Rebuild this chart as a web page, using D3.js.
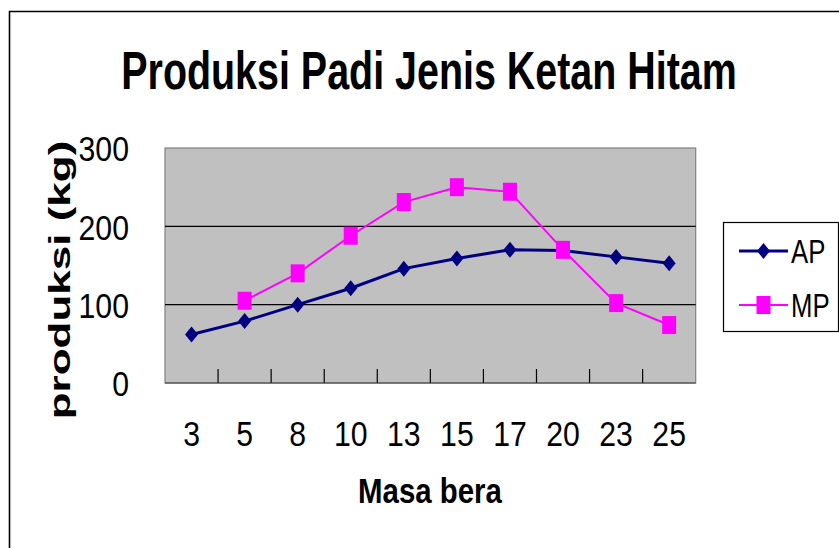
<!DOCTYPE html>
<html>
<head>
<meta charset="utf-8">
<script src="https://cdn.jsdelivr.net/npm/d3@7"></script>
<style>
  html, body { margin: 0; padding: 0; background: #ffffff; }
  svg { display: block; }
  text { font-family: "Liberation Sans", Arial, sans-serif; fill: #000; }
</style>
</head>
<body>
<svg id="chart" width="839" height="548"></svg>
<script>
const title = "Produksi Padi Jenis Ketan Hitam";
const xTitle = "Masa bera";
const yTitle = "produksi (kg)";
const categories = ["3", "5", "8", "10", "13", "15", "17", "20", "23", "25"];
const seriesNames = ["AP", "MP"];
const apValues = [62, 79, 100, 121, 146, 159, 170, 169, 161, 153];
const mpValues = [null, 105, 140, 188, 231, 250, 244, 170, 102, 74];
const yTicks = [0, 100, 200, 300];

const svg = d3.select("#chart");
const W = 839, H = 548;
const plot = { left: 165, right: 695.7, top: 148, bottom: 383 };

svg.append("rect").attr("width", W).attr("height", H).attr("fill", "#fff");

// outer chart border (top and left visible)
svg.append("path")
  .attr("d", `M9.5,${H} L9.5,11.5 L${W},11.5`)
  .attr("fill", "none").attr("stroke", "#000").attr("stroke-width", 1.6);

const x = d3.scaleBand().domain(categories).range([plot.left, plot.right]).padding(0);
const y = d3.scaleLinear().domain([0, 300]).range([plot.bottom, plot.top]);
const cx = c => x(c) + x.bandwidth() / 2;

// plot area
svg.append("rect")
  .attr("x", plot.left).attr("y", plot.top)
  .attr("width", plot.right - plot.left).attr("height", plot.bottom - plot.top)
  .attr("fill", "#c0c0c0").attr("stroke", "#808080").attr("stroke-width", 1.2);

// gridlines
svg.append("g").selectAll("line")
  .data(yTicks.filter(t => t > 0 && t < 300))
  .join("line")
  .attr("x1", plot.left).attr("x2", plot.right)
  .attr("y1", d => y(d)).attr("y2", d => y(d))
  .attr("stroke", "#000").attr("stroke-width", 1.3);

// category tick marks (inside, at boundaries)
svg.append("g").selectAll("line")
  .data(categories.slice(1))
  .join("line")
  .attr("x1", d => x(d)).attr("x2", d => x(d))
  .attr("y1", plot.bottom - 14).attr("y2", plot.bottom)
  .attr("stroke", "#000").attr("stroke-width", 1.2);

// bottom axis line
svg.append("line")
  .attr("x1", plot.left).attr("x2", plot.right)
  .attr("y1", plot.bottom).attr("y2", plot.bottom)
  .attr("stroke", "#404040").attr("stroke-width", 1.2);

// y axis labels
const yAxis = svg.append("g")
  .attr("transform", `translate(${plot.left},0)`)
  .call(d3.axisLeft(y).tickValues(yTicks).tickSize(0).tickFormat(d3.format("d")));
yAxis.select(".domain").remove();
yAxis.selectAll("text")
  .attr("x", 0).attr("dy", "0.36em")
  .attr("transform", "translate(-36,0) scale(0.84,1)")
  .attr("text-anchor", "end")
  .style("font-size", "36px").style("font-family", '"Liberation Sans", Arial, sans-serif');

// x axis labels
const xAxis = svg.append("g")
  .attr("transform", `translate(0,${plot.bottom})`)
  .call(d3.axisBottom(x).tickSize(0));
xAxis.select(".domain").remove();
xAxis.selectAll("text")
  .attr("y", 0).attr("dy", 0)
  .attr("transform", "translate(0,63) scale(0.84,1)")
  .attr("text-anchor", "middle")
  .style("font-size", "36px").style("font-family", '"Liberation Sans", Arial, sans-serif');

// lines
const lineGen = d3.line()
  .defined(d => d.v != null)
  .x(d => cx(d.c)).y(d => y(d.v));

const apData = categories.map((c, i) => ({ c, v: apValues[i] }));
const mpData = categories.map((c, i) => ({ c, v: mpValues[i] }));

svg.append("path").datum(apData).attr("d", lineGen)
  .attr("fill", "none").attr("stroke", "#000080").attr("stroke-width", 3);
svg.append("path").datum(mpData).attr("d", lineGen)
  .attr("fill", "none").attr("stroke", "#ff00ff").attr("stroke-width", 2);

const diamond = (px, py) => `M${px},${py - 8} L${px + 6.5},${py} L${px},${py + 8} L${px - 6.5},${py} Z`;
const square = (px, py) => `M${px - 7},${py - 9} h14 v18 h-14 Z`;

svg.append("g").selectAll("path")
  .data(apData.filter(d => d.v != null))
  .join("path")
  .attr("d", d => diamond(cx(d.c), y(d.v)))
  .attr("fill", "#000080");

svg.append("g").selectAll("path")
  .data(mpData.filter(d => d.v != null))
  .join("path")
  .attr("d", d => square(cx(d.c), y(d.v)))
  .attr("fill", "#ff00ff");

// title
svg.append("text")
  .attr("transform", "translate(429,89) scale(0.73,1)")
  .attr("text-anchor", "middle")
  .style("font-size", "54px").style("font-weight", "bold")
  .text(title);

// x title
svg.append("text")
  .attr("transform", "translate(430,503) scale(0.84,1)")
  .attr("text-anchor", "middle")
  .style("font-size", "35px").style("font-weight", "bold")
  .text(xTitle);

// y title
svg.append("text")
  .attr("transform", "translate(70,280) scale(0.66,1) rotate(-90)")
  .attr("text-anchor", "middle")
  .style("font-size", "44px").style("font-weight", "bold")
  .text(yTitle);

// legend
const lg = svg.append("g");
lg.append("rect")
  .attr("x", 723.5).attr("y", 222.5).attr("width", 115).attr("height", 109)
  .attr("fill", "#fff").attr("stroke", "#000").attr("stroke-width", 1.2);
const legendItems = [
  { name: seriesNames[0], color: "#000080", w: 3, shape: diamond, y: 251 },
  { name: seriesNames[1], color: "#ff00ff", w: 2, shape: square, y: 305 }
];
legendItems.forEach(it => {
  lg.append("line").attr("x1", 739).attr("x2", 788).attr("y1", it.y).attr("y2", it.y)
    .attr("stroke", it.color).attr("stroke-width", it.w);
  lg.append("path").attr("d", it.shape(763.5, it.y)).attr("fill", it.color);
  lg.append("text")
    .attr("transform", `translate(791,${it.y + 12}) scale(0.78,1)`)
    .style("font-size", "33px")
    .text(it.name);
});
</script>
</body>
</html>
